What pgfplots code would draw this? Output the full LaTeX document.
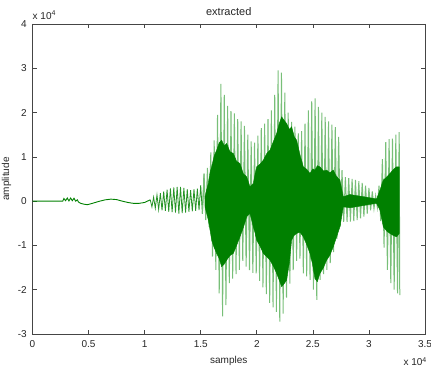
\documentclass[border=0pt]{standalone}
\usepackage{fontspec}
\setmainfont{Liberation Sans}
\usepackage{pgfplots}
\pgfplotsset{compat=1.18}
\definecolor{mgreen}{rgb}{0,0.5,0}
\definecolor{lgreen}{rgb}{0.47,0.75,0.47}
\definecolor{egreen}{rgb}{0.15,0.58,0.15}
\definecolor{axgray}{rgb}{0.27,0.27,0.27}
\begin{document}
\fontsize{10bp}{12bp}\selectfont
\begin{tikzpicture}
\begin{axis}[name=ax, scale only axis, width=392.5bp, height=310bp,
  xmin=0, xmax=35000, ymin=-30000, ymax=40000,
  xtick={0,5000,10000,15000,20000,25000,30000,35000},
  xticklabels={0,0.5,1,1.5,2,2.5,3,3.5},
  ytick={-30000,-20000,-10000,0,10000,20000,30000,40000},
  yticklabels={-3,-2,-1,0,1,2,3,4},
  scaled ticks=false,
  tick align=inside, xtick pos=both, ytick pos=both,
  major tick length=4bp,
  axis line style={axgray, line width=0.6pt},
  tick style={axgray, line width=0.6pt},
  ticklabel style={font=\fontsize{10bp}{12bp}\selectfont, text=black!85},
  xticklabel style={anchor=base, yshift=-14bp},
  yticklabel style={anchor=east, inner sep=0pt, xshift=-5.5bp},
  clip=true,
]
% quiet lead-in
\addplot[mgreen, line width=0.9bp] coordinates {
(0,0) (2700,0) (2800,600) (2950,100) (3100,700) (3250,50) (3400,700) (3550,100)
(3700,650) (3850,0) (4000,300) (4100,-200) (4300,-500) (4600,-700) (4900,-800)
(5200,-600) (5600,-300) (6000,0) (6500,300) (7000,450) (7500,350) (8000,0)
(8500,-300) (9000,-500) (9500,-500) (10000,-300) (10500,300)
};
% early oscillation
\addplot[egreen, line width=0.8bp] coordinates {
(10500,300) (10650,-1300) (10800,900) (10950,-1600) (11100,1400) (11250,-1900)
(11400,1800) (11550,-2100) (11700,2200) (11850,-2200) (12000,2600) (12150,-2400)
(12300,2900) (12450,-2500) (12600,3100) (12750,-2600) (12900,3200) (13050,-2800)
(13200,3200) (13350,-2700) (13500,3000) (13650,-2600) (13800,2700) (13950,-2400)
(14100,2500) (14250,-2300) (14400,2700) (14550,-2200) (14700,2800) (14850,-2000)
(15000,3600) (15150,-2800) (15300,6200)
};
% main spikes
\addplot[lgreen, line width=1.0bp] coordinates {
(15150,-2800) (15300,6200) (15450,-4300) (15600,7500) (15750,-5800)
(15900,11000) (16050,-12500) (16200,13700) (16350,-15500) (16500,19500) (16650,-20800)
(16800,26500) (16950,-26000) (17100,24000) (17250,-23500) (17400,21500) (17550,-18500)
(17700,20300) (17850,-17500) (18000,19800) (18150,-16500) (18300,18500) (18450,-15500)
(18600,18000) (18750,-13500) (18900,17000) (19050,-14800) (19200,15000) (19350,-15600)
(19500,13500) (19650,-16200) (19800,13200) (19950,-16300) (20100,14800) (20250,-18000)
(20400,16500) (20550,-19500) (20700,17500) (20850,-21000) (21000,18500) (21150,-23000)
(21300,20500) (21450,-24000) (21600,24000) (21750,-25000) (21900,29500) (22050,-27200)
(22200,29000) (22350,-25400) (22500,24500) (22650,-21800) (22800,20000) (22950,-18600)
(23100,17900) (23250,-15600) (23400,16800) (23550,-13500) (23700,15300) (23850,-13000)
(24000,15800) (24150,-16300) (24300,17500) (24450,-17000) (24600,20500) (24750,-17800)
(24900,22500) (25050,-20000) (25200,23200) (25350,-22300) (25500,21300) (25650,-17800)
(25800,20000) (25950,-16500) (26100,19000) (26250,-15500) (26400,18000) (26550,-14000)
(26700,17300) (26850,-11500) (27000,16700) (27150,-8500) (27300,14500) (27450,-5700)
(27600,7000) (27750,-4700) (27900,5400) (28050,-4700) (28200,5200) (28350,-4600)
(28500,5000) (28650,-4500) (28800,4800) (28950,-4300) (29100,4500) (29250,-3900)
(29400,4100) (29550,-3500) (29700,3500) (29850,-2800) (30000,3000) (30150,-2100)
(30300,2200) (30450,-1700) (30600,1200) (30750,-1400) (30900,3500) (31050,-4500)
(31200,9500) (31350,-10500) (31500,13300) (31650,-15500) (31800,14000) (31950,-18500)
(32100,14100) (32250,-20000) (32400,15000) (32550,-20800) (32700,15600) (32750,-21200)
};
% dense dark core
\addplot[mgreen, fill=mgreen, line width=0.4bp] coordinates {
(15381,980) (15530,2600) (15678,3989) (15830,6500) (15975,7751) (16200,10200)
(16421,11512) (16650,13200) (16867,13769) (17100,12500) (17313,13017) (17600,11200)
(17907,10760) (18200,9000) (18501,8503) (18800,6200) (19096,5494) (19393,3237)
(19690,3989) (19850,6200) (19987,7751) (20300,8400) (20582,9255) (20900,10800)
(21176,11512) (21500,13600) (21771,15274) (22000,17500) (22217,19036) (22450,18200)
(22662,17531) (22900,16200) (23108,16778) (23350,14500) (23554,13769) (23850,10500)
(24148,7751) (24450,7200) (24743,6246) (25000,7300) (25188,6998) (25400,8000)
(25634,7751) (25950,6800) (26228,6998) (26500,6400) (26823,6998) (27100,5600)
(27417,4741) (27714,980) (28300,1500) (29500,1000) (30687,500)
(30984,2482) (31281,4741) (31600,5500) (31876,6246) (32200,7200) (32470,7751) (32708,7751)
(32708,-7294) (32470,-8048) (32200,-7800) (31876,-7294) (31600,-6800) (31281,-5791)
(30984,-2031) (30687,-500) (29500,-1000) (28300,-1500) (27714,-1277) (27417,-5791)
(27100,-8200) (26823,-10305) (26500,-12300) (26228,-13314) (25950,-15000)
(25634,-16323) (25400,-18200) (25188,-17500) (24950,-14000) (24743,-11809) (24450,-9800)
(24148,-8048) (23850,-7000) (23554,-7294) (23300,-7800) (23108,-8799) (22900,-14000)
(22662,-17828) (22450,-18600) (22217,-19332) (22000,-17800) (21771,-16323) (21500,-14800)
(21176,-13314) (20900,-12600) (20582,-11809) (20300,-10200) (19987,-8799) (19850,-7200)
(19690,-5791) (19393,-2782) (19096,-3534) (18800,-6000) (18501,-8048) (18200,-10000)
(17907,-11809) (17600,-12300) (17313,-13314) (17100,-14200) (16867,-14818) (16650,-13000)
(16421,-11809) (16200,-10500) (15975,-8799) (15830,-6500) (15678,-4286) (15530,-2800) (15381,-1277)
};
\end{axis}
\node[anchor=base, font=\fontsize{11bp}{13bp}\selectfont, text=black!85] at ([yshift=8bp]ax.north) {extracted};
\node[anchor=base west, inner sep=0pt, text=black!85] at ([yshift=4.7bp]ax.north west) {x 10\textsuperscript{4}};
\node[anchor=base east, inner sep=0pt, text=black!85] at ([xshift=2bp,yshift=-32bp]ax.south east) {x 10\textsuperscript{4}};
\node[anchor=base, inner sep=0pt, text=black!85] at ([yshift=-29.3bp]ax.south) {samples};
\node[anchor=base, rotate=90, inner sep=0pt, text=black!85] at ([xshift=-23.5bp]ax.west) {amplitude};
\pgfresetboundingbox
\path ([shift={(-32.5bp,-38bp)}]ax.south west) rectangle ([shift={(6bp,24bp)}]ax.north east);
\end{tikzpicture}
\end{document}
